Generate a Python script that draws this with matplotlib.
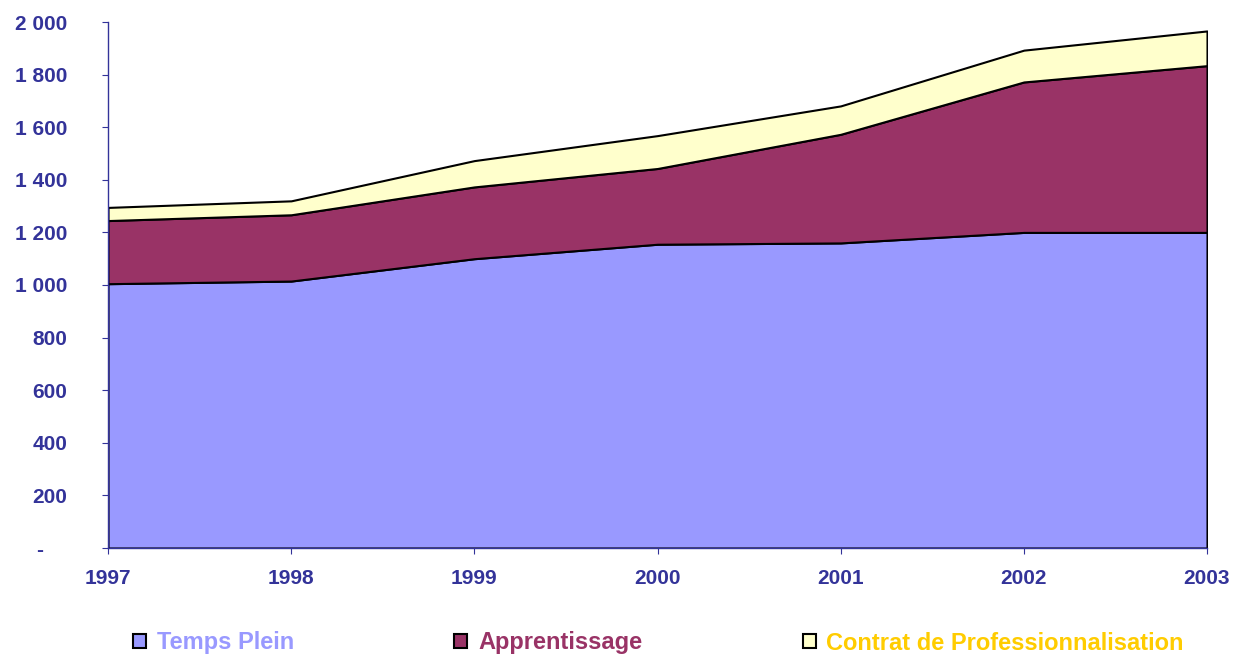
import numpy as np
import matplotlib
matplotlib.use('Agg')
import matplotlib.pyplot as plt
from matplotlib.patches import Patch
from matplotlib.ticker import FuncFormatter

plt.rcParams['font.family'] = ['Liberation Sans', 'DejaVu Sans']
plt.rcParams['font.weight'] = 'bold'

# data
years = [1997, 1998, 1999, 2000, 2001, 2002, 2003]
temps_plein = [1005, 1015, 1100, 1155, 1160, 1200, 1200]
apprentissage = [240, 252, 273, 288, 413, 572, 634]
contrat_pro = [50, 53, 100, 125, 108, 121, 132]
labels = ['Temps Plein', 'Apprentissage', 'Contrat de Professionnalisation']
colors = ['#9999FF', '#993366', '#FFFFCC']
text_colors = ['#9999FF', '#993366', '#FFCC00']
axis_blue = '#333399'

fig = plt.figure(figsize=(12.34, 6.57), dpi=100)
ax = fig.add_axes([108 / 1234, 1 - 548 / 657, (1207 - 108) / 1234, (548 - 22) / 657])

ax.stackplot(years, temps_plein, apprentissage, contrat_pro,
             colors=colors, edgecolor='black', linewidth=1.5)

ax.set_xlim(1997, 2003)
ax.set_ylim(0, 2000)
ax.set_xticks(years)
ax.set_yticks(np.arange(0, 2001, 200))

def fmt(v, pos):
    # excel style: zero shown as a dash
    if v == 0:
        return '-    '
    return '{:,.0f}'.format(v).replace(',', ' ')

ax.yaxis.set_major_formatter(FuncFormatter(fmt))

for s in ['top', 'right']:
    ax.spines[s].set_visible(False)
for s in ['left', 'bottom']:
    ax.spines[s].set_color(axis_blue)
    ax.spines[s].set_linewidth(1.0)
ax.tick_params(axis='both', colors=axis_blue, length=4.3, width=0.8,
               direction='out', labelsize=15)
ax.tick_params(axis='y', pad=25)
ax.tick_params(axis='x', pad=11)

handles = [Patch(facecolor=c, edgecolor='black', linewidth=1.5) for c in colors]
leg = fig.legend(handles, labels, loc='center left', bbox_to_anchor=(133 / 1234, 1 - 643 / 657),
                 ncol=3, frameon=False, handlelength=0.55, handleheight=0.55,
                 handletextpad=0.45, columnspacing=6.8, labelcolor=text_colors,
                 prop={'size': 17, 'weight': 'bold'}, borderaxespad=0, borderpad=0)

fig.savefig('out.png', dpi=100)
